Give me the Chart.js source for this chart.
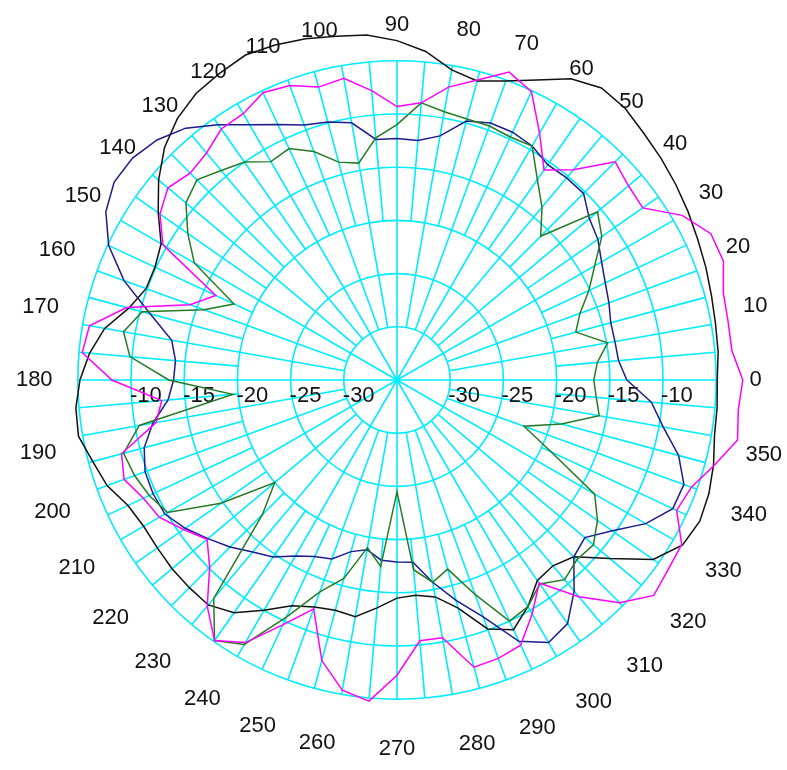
<!DOCTYPE html>
<html>
<head>
<meta charset="utf-8">
<title>Polar pattern</title>
<script src="https://cdn.jsdelivr.net/npm/chart.js@4.4.1/dist/chart.umd.min.js"></script>
<style>
  html, body { margin: 0; padding: 0; background: #fff; }
  #wrap { position: relative; width: 787px; height: 770px; }
</style>
</head>
<body>
<div id="wrap"><canvas id="polarChart"></canvas></div>
<script>
// angles in degrees, counter-clockwise from the right (0)
const angles = [
  0, 5, 10, 15, 20, 25, 30, 35, 40, 45, 50, 55, 60, 65, 70, 75, 80, 85,
  90, 95, 100, 105, 110, 115, 120, 125, 130, 135, 140, 145, 150, 155, 160, 165, 170, 175,
  180, 185, 190, 195, 200, 205, 210, 215, 220, 225, 230, 235, 240, 245, 250, 255, 260, 265,
  270, 275, 280, 285, 290, 295, 300, 305, 310, 315, 320, 325, 330, 335, 340, 345, 350, 355
];

// dB rings, and the ones that get a label along the horizontal axis
const ringValues = [-30, -25, -20, -15, -10, -5];
const tickLabels = [-30, -25, -20, -15, -10];

// traces (dB), same order as angles
const blackTrace = [
  -4.9, -4.7, -4.6, -4.4, -4.1, -3.8, -3.4, -3.0, -2.6, -2.2,
  -1.65, -1.5, -2.3, -3.9, -5.1, -5.9, -5.4, -4.0, -3.1, -2.45,
  -2.2, -1.8, -1.5, -1.3, -1.7, -2.1, -2.9, -4.1, -5.75, -7.6,
  -9.4, -9.9, -9.9, -8.9, -7.1, -6.0, -5.2, -4.7, -4.6, -5.4,
  -6.0, -7.1, -7.5, -7.5, -7.4, -7.4, -7.4, -8.3, -10.0, -11.6,
  -12.3, -12.6, -12.4, -13.5, -14.5, -14.7, -14.3, -12.8, -10.1, -9.1,
  -10.4, -12.0, -12.2, -11.5, -8.9, -5.6, -4.0, -3.6, -3.8, -4.2,
  -4.7, -4.8
];
const magentaTrace = [
  -2.5, -3.4, -3.4, -3.25, -2.35, -2.45, -4.05, -6.8, -6.6, -6.0,
  -9.2, -10.9, -8.2, -5.1, -4.2, -5.8, -7.05, -8.85, -9.3, -7.7,
  -6.2, -6.5, -5.55, -5.2, -6.1, -6.2, -7.15, -7.5, -6.9, -7.8,
  -9.6, -16.2, -14.3, -8.7, -5.65, -5.3, -8.2, -12.8, -12.0, -8.2,
  -7.7, -8.7, -9.2, -10.5, -11.7, -10.1, -7.25, -5.1, -6.5, -9.6,
  -12.1, -7.7, -5.4, -4.7, -7.25, -10.4, -10.4, -7.05, -7.15, -7.5,
  -9.6, -11.7, -8.4, -5.4, -3.5, -3.9, -4.1, -6.0, -5.55, -4.1,
  -2.5, -2.8
];
const navyTrace = [
  -13.4, -14.1, -14.2, -14.2, -13.8, -13.4, -12.8, -11.95, -11.4, -10.2,
  -10.2, -10.3, -9.6, -9.3, -9.3, -9.8, -11.7, -12.4, -12.3, -12.3,
  -10.45, -9.9, -9.5, -8.5, -7.3, -5.7, -4.1, -3.1, -2.55, -2.55,
  -3.4, -5.1, -7.7, -11.0, -13.5, -14.1, -14.0, -13.4, -11.7, -10.4,
  -9.8, -9.7, -9.8, -10.7, -11.8, -12.8, -13.9, -14.7, -15.9, -16.7,
  -17.1, -18.3, -18.8, -18.0, -17.9, -17.8, -15.7, -13.55, -11.3, -7.9,
  -6.5, -7.05, -9.1, -11.5, -11.95, -10.3, -8.0, -6.4, -6.3, -7.6,
  -9.6, -11.0
];
const greenTrace = [
  -16.5, -16.1, -14.9, -17.6, -16.7, -15.1, -13.55, -11.5, -10.4, -15.9,
  -13.8, -12.0, -9.6, -9.8, -9.6, -9.6, -9.4, -8.85, -11.0, -12.15,
  -14.3, -13.8, -12.15, -11.0, -11.3, -10.0, -9.3, -8.4, -9.1, -11.0,
  -13.0, -18.1, -15.7, -10.2, -8.9, -9.8, -13.55, -19.5, -10.4, -8.4,
  -8.75, -9.3, -10.1, -14.8, -20.0, -17.1, -8.2, -5.1, -6.3, -10.4,
  -13.8, -15.7, -19.0, -17.4, -24.5, -17.1, -15.7, -16.6, -13.55, -10.0,
  -10.4, -11.6, -10.5, -11.1, -10.9, -12.0, -13.55, -19.0, -22.3, -19.0,
  -15.7, -16.2
];

const gridColor = '#00ecff';
const gridWidth = 1.6;
const textFont = '"Liberation Sans", Arial, sans-serif';

// radar runs clockwise, the plot runs counter-clockwise -> flip the order
const toChartOrder = arr => arr.map((_, i) => arr[(arr.length - i) % arr.length]);
const chartAngles = toChartOrder(angles);

// spokes start at different rings, dB labels on both sides of the center
const gridAndTicks = {
  id: 'gridAndTicks',
  beforeDatasetsDraw(chart) {
    const scale = chart.scales.r;
    const ctx = chart.ctx;
    ctx.save();
    ctx.strokeStyle = gridColor;
    ctx.lineWidth = gridWidth;
    chartAngles.forEach((a, i) => {
      let from = -35;
      if (a % 30 !== 0) from = (a % 10 === 0) ? -30 : -20;
      const p1 = scale.getPointPositionForValue(i, from);
      const p2 = scale.getPointPositionForValue(i, -5);
      ctx.beginPath();
      ctx.moveTo(p1.x, p1.y);
      ctx.lineTo(p2.x, p2.y);
      ctx.stroke();
    });
    // little dot where the spokes meet
    ctx.fillStyle = gridColor;
    ctx.beginPath();
    ctx.arc(scale.xCenter, scale.yCenter, 3, 0, Math.PI * 2);
    ctx.fill();

    ctx.fillStyle = '#111111';
    ctx.font = '22px ' + textFont;
    ctx.textAlign = 'left';
    ctx.textBaseline = 'middle';
    tickLabels.forEach(v => {
      const d = scale.getDistanceFromCenterForValue(v);
      ctx.fillText(String(v), scale.xCenter - d - 1, scale.yCenter + 16);
      ctx.fillText(String(v), scale.xCenter + d - 2, scale.yCenter + 16);
    });
    ctx.restore();
  }
};

new Chart(document.getElementById('polarChart'), {
  type: 'radar',
  data: {
    labels: chartAngles,
    datasets: [
      { label: 'magenta', data: toChartOrder(magentaTrace), borderColor: '#ff00ff', fill: false },
      { label: 'green', data: toChartOrder(greenTrace), borderColor: '#267a26', fill: false },
      { label: 'navy', data: toChartOrder(navyTrace), borderColor: '#1c1c8c', fill: false },
      { label: 'black', data: toChartOrder(blackTrace), borderColor: '#111111', fill: false }
    ]
  },
  options: {
    responsive: true,
    maintainAspectRatio: false,
    animation: false,
    layout: { padding: { left: 12, top: 6, right: 0, bottom: 0 } },
    elements: {
      line: { borderWidth: 1.5, tension: 0 },
      point: { radius: 0, hoverRadius: 0 }
    },
    plugins: {
      legend: { display: false },
      tooltip: { enabled: false }
    },
    scales: {
      r: {
        min: -35,
        max: -2,
        startAngle: 90,
        afterBuildTicks: scale => {
          scale.ticks = ringValues.map(v => ({ value: v }));
        },
        ticks: { display: false },
        grid: { circular: true, color: gridColor, lineWidth: gridWidth },
        angleLines: { display: false },
        pointLabels: {
          color: '#111111',
          font: { family: textFont, size: 22 },
          padding: ctx => {
            const a = chartAngles[ctx.index] * Math.PI / 180;
            return -2.6 + 4.1 * Math.cos(a) - 7.1 * Math.sin(a);
          },
          callback: label => (label % 10 === 0 ? String(label) : '')
        }
      }
    }
  },
  plugins: [gridAndTicks]
});
</script>
</body>
</html>
